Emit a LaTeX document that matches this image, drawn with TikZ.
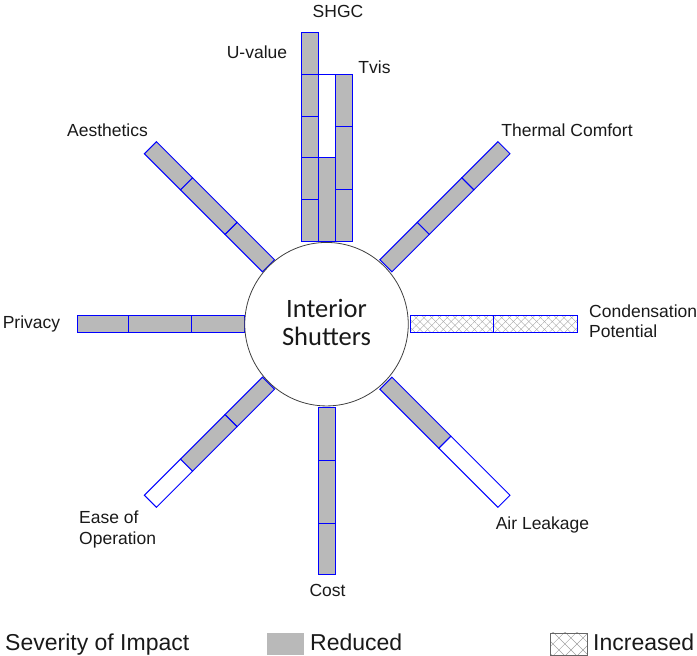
\documentclass[tikz,border=0pt]{standalone}
\usepackage{fontspec}
\setmainfont{Liberation Sans}
\newfontfamily\hubfont{Carlito}
\usetikzlibrary{patterns.meta}
\definecolor{barfill}{RGB}{185,185,185}
\definecolor{hatchline}{RGB}{160,160,160}
\definecolor{barline}{RGB}{0,0,255}
\tikzset{
  seg/.style={draw=barline, line width=1pt},
  lowseg/.style={seg, fill=barfill},
  emptyseg/.style={seg, fill=white},
  highseg/.style={seg,
    preaction={pattern={Lines[angle=45,distance=5.5pt,line width=0.35pt]}, pattern color=hatchline},
    pattern={Lines[angle=-45,distance=5.5pt,line width=0.35pt]}, pattern color=hatchline},
  lbl/.style={font=\fontsize{17.5}{20}\selectfont, text=black!90, inner sep=0pt, anchor=base},
  lblw/.style={lbl, anchor=base west},
  leg/.style={font=\fontsize{23}{26}\selectfont, text=black!90, inner sep=0pt, anchor=base west},
}
% a radial bar of three segments: angle, then the style of each segment from the hub outwards
\newcommand\spokethree[4]{%
  \begin{scope}[shift={(C)},rotate=#1]
    \draw[#2] (83,-8.5) rectangle (136,8.5);
    \draw[#3] (136,-8.5) rectangle (199,8.5);
    \draw[#4] (199,-8.5) rectangle (250,8.5);
  \end{scope}}
% a radial bar of two segments
\newcommand\spoketwo[3]{%
  \begin{scope}[shift={(C)},rotate=#1]
    \draw[#2] (83,-8.5) rectangle (166.5,8.5);
    \draw[#3] (166.5,-8.5) rectangle (250,8.5);
  \end{scope}}
\begin{document}
\begin{tikzpicture}[x=1pt,y=1pt]
\useasboundingbox (0,0) rectangle (697,656);
\coordinate (C) at (327.2,331.5);

% radial bars
\spokethree{135}{lowseg}{lowseg}{lowseg}
\spokethree{45}{lowseg}{lowseg}{lowseg}
\spoketwo{0}{highseg}{highseg}
\spoketwo{-45}{lowseg}{emptyseg}
\spokethree{-90}{lowseg}{lowseg}{lowseg}
\spokethree{-135}{lowseg}{lowseg}{emptyseg}
\spokethree{180}{lowseg}{lowseg}{lowseg}

% upper group: U-value, SHGC, Tvis
\foreach \a/\b in {414.5/456.3, 456.3/498.1, 498.1/539.9, 539.9/581.7, 581.7/623.5}
  \draw[lowseg] (301.7,\a) rectangle (318.7,\b);
\draw[lowseg] (318.7,414.5) rectangle (335.7,498);
\draw[emptyseg] (318.7,498) rectangle (335.7,581.5);
\draw[lowseg] (335.7,414.5) rectangle (352.7,466.5);
\draw[lowseg] (335.7,466.5) rectangle (352.7,529.5);
\draw[lowseg] (335.7,529.5) rectangle (352.7,581.5);

% hub
\node[circle, draw=black!75, line width=0.8pt, fill=white, minimum size=163.5pt, inner sep=0pt] (hub) at (326.5,331.8) {};
\node[font=\hubfont\fontsize{26.5}{28}\selectfont, text=black!90, align=center, inner sep=0pt] (hubtext) at (326.5,334) {Interior\\Shutters};

% labels
\node[lbl] (shgc) at (338,638.7) {SHGC};
\node[lbl] (uval) at (257,597.5) {U-value};
\node[lbl] (tvis) at (374.5,582.7) {Tvis};
\node[lbl] (therm) at (567,519) {Thermal Comfort};
\node[lbl] (aest) at (107.5,519.3) {Aesthetics};
\node[lbl] (priv) at (31.5,327.7) {Privacy};
\node[lblw] (cond1) at (589,338) {Condensation};
\node[lblw] (cond2) at (589,318) {Potential};
\node[lbl] (air) at (542.5,126.7) {Air Leakage};
\node[lblw] (ease1) at (79,132) {Ease of};
\node[lblw] (ease2) at (79,111) {Operation};
\node[lbl] (cost) at (327.5,59.3) {Cost};

% legend
\node[leg] (sev) at (5,5.5) {Severity of Impact};
\node[fill=barfill, minimum width=37pt, minimum height=22pt, inner sep=0pt] (keylow) at (285.5,12) {};
\node[leg] (low) at (310,5.5) {Reduced};
\node[draw=black!60, line width=0.6pt, minimum width=37pt, minimum height=22pt, inner sep=0pt,
  preaction={pattern={Lines[angle=45,distance=8.5pt,line width=0.4pt]}, pattern color=hatchline},
  pattern={Lines[angle=-45,distance=8.5pt,line width=0.4pt]}, pattern color=hatchline] (keyhigh) at (568.5,12) {};
\node[leg] (high) at (593,5.5) {Increased};
\end{tikzpicture}
\end{document}
